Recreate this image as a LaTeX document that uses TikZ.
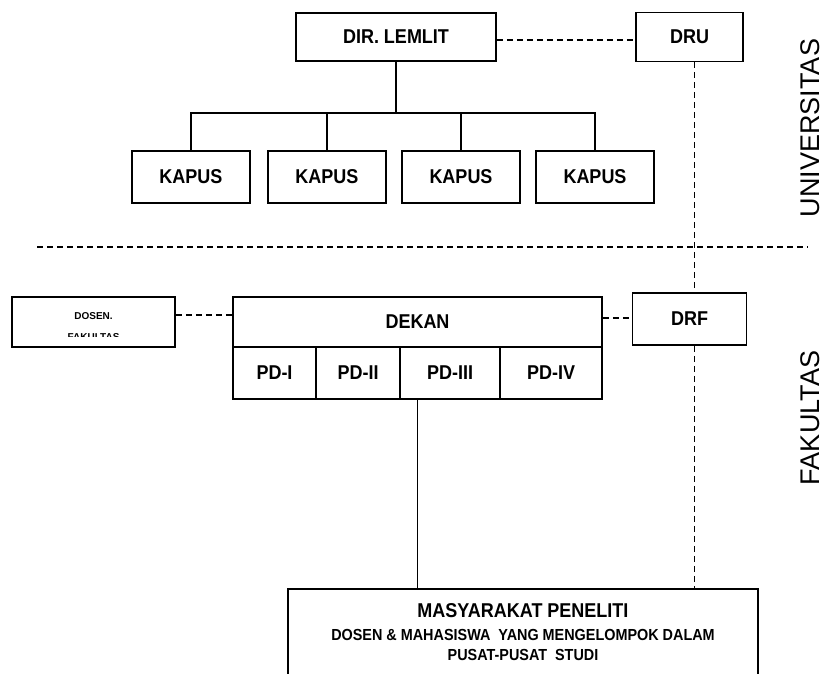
\documentclass[tikz,border=0pt]{standalone}
\usepackage{fontspec}
\setmainfont{Liberation Sans}
\newfontfamily\boxfont[FakeStretch=0.9]{Liberation Sans}
\usetikzlibrary{calc}
\tikzset{
  box/.style={draw, line width=1.5pt, rectangle, inner sep=0pt,
    font=\boxfont\bfseries\fontsize{20}{24}\selectfont, text=black},
  conn/.style={line width=1.5pt},
  dconn/.style={line width=1.5pt, dash pattern=on 6pt off 4pt},
  side/.style={rotate=90, inner sep=0pt, font=\fontsize{27}{30}\selectfont},
  mtext/.style={inner sep=0pt, anchor=base, font=\boxfont\bfseries\fontsize{#1}{#1}\selectfont},
  smalltext/.style={inner sep=0pt, font=\bfseries\fontsize{10}{12}\selectfont},
}
\begin{document}
\begin{tikzpicture}[x=1pt,y=-1pt]
\clip (0,0) rectangle (824,673);
\fill[white] (0,0) rectangle (824,673);

% University level
\node[box, minimum width=200pt, minimum height=48pt] (lemlit) at (396,37) {DIR. LEMLIT};
\node[box, minimum width=107pt, minimum height=49pt] (dru) at (689.5,37) {DRU};
\foreach \i/\x in {1/191,2/327,3/461,4/595}
  \node[box, minimum width=118pt, minimum height=52pt] (kapus\i) at (\x,177) {KAPUS};

\coordinate (busmid) at (396,113);
\draw[conn] (lemlit.south) -- (busmid);
\draw[conn] (kapus1.north) -- (kapus1.north |- busmid) -- (kapus4.north |- busmid) -- (kapus4.north);
\draw[conn] (kapus2.north) -- (kapus2.north |- busmid);
\draw[conn] (kapus3.north) -- (kapus3.north |- busmid);
\draw[dconn] ([yshift=-3pt]lemlit.east) -- ([yshift=-3pt]dru.west);

% separator
\coordinate (sepL) at (37,247);
\coordinate (sepR) at (808,247);
\draw[dconn] (sepL) -- (sepR);

% Faculty level
\node[box, minimum width=163pt, minimum height=50pt] (dosen) at (93.5,322) {};
\node[box, minimum width=369pt, minimum height=50pt] (dekan) at (417.5,322) {DEKAN};
\node[box, minimum width=83pt, minimum height=52pt] (pd1) at (274.5,373) {PD-I};
\node[box, minimum width=84pt, minimum height=52pt] (pd2) at (358,373) {PD-II};
\node[box, minimum width=100pt, minimum height=52pt] (pd3) at (450,373) {PD-III};
\node[box, minimum width=102pt, minimum height=52pt] (pd4) at (551,373) {PD-IV};
\node[box, minimum width=114pt, minimum height=52pt] (drf) at (689.5,319) {DRF};

\node[smalltext] (dosent) at (93.5,316) {DOSEN.};
\begin{scope}
  \clip (14,300) rectangle (173,336);
  \node[smalltext, anchor=base] (fakt) at (93.5,340.5) {FAKULTAS};
\end{scope}

\draw[dconn] ([yshift=7pt]dosen.east) -- ([yshift=7pt]dekan.west);
\draw[dconn] ([yshift=4pt]dekan.east) -- ([yshift=1pt]drf.west);
\draw[dconn] ([xshift=5pt]dru.south) -- ([xshift=5pt]drf.north);

% Bottom box
\node[box, minimum width=470pt, minimum height=110pt] (masy) at (523,644) {};
\node[mtext=20] (m1) at (523,617) {MASYARAKAT PENELITI};
\node[mtext=16] (m2) at (523,640.5) {DOSEN \& MAHASISWA\ \ YANG MENGELOMPOK DALAM};
\node[mtext=16] (m3) at (523,660.5) {PUSAT-PUSAT\ \ STUDI};

\draw[conn] (dekan.center |- pd3.south) -- (dekan.center |- masy.north);
\draw[dconn] ([xshift=5pt]drf.south) -- ([xshift=5pt]drf.south |- masy.north);

% side labels
\node[side] (univ) at (810,128) {UNIVERSITAS};
\node[side] (fak) at (810,418) {FAKULTAS};
\end{tikzpicture}
\end{document}
